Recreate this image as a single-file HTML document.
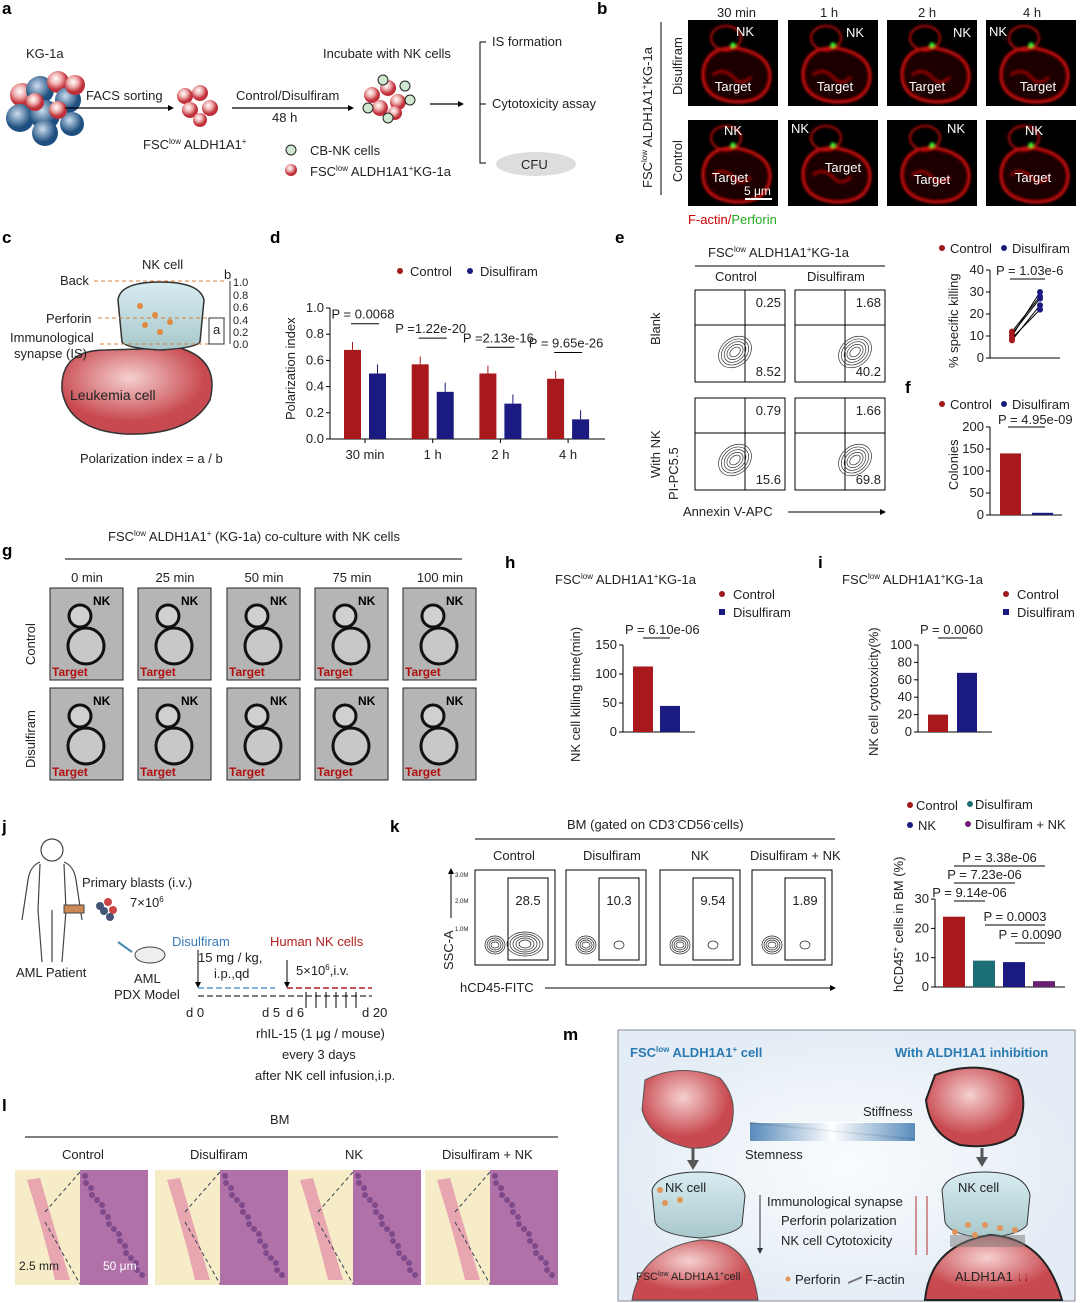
<!DOCTYPE html>
<html><head><meta charset="utf-8"><style>
html,body{margin:0;padding:0;background:#fff}
svg{display:block;font-family:"Liberation Sans",Arial,sans-serif}
text{fill:#222}
.pl{font-size:17px;font-weight:bold;fill:#000}
.t{font-size:13px}
.s{font-size:11px}
.xs{font-size:7px}
</style></head><body>
<svg id="fig" width="1080" height="1303" viewBox="0 0 1080 1303" xmlns="http://www.w3.org/2000/svg">
<defs>
<filter id="blur" x="-20%" y="-20%" width="140%" height="140%"><feGaussianBlur stdDeviation="1.2"/></filter>
<radialGradient id="cellR" cx="40%" cy="35%"><stop offset="0" stop-color="#fff"/><stop offset="0.5" stop-color="#f0b0b0"/><stop offset="1" stop-color="#c0303a"/></radialGradient>
<radialGradient id="cellB" cx="40%" cy="35%"><stop offset="0" stop-color="#cde"/><stop offset="1" stop-color="#1e4f80"/></radialGradient>
<radialGradient id="leuk" cx="45%" cy="35%"><stop offset="0" stop-color="#f6d0d0"/><stop offset="1" stop-color="#c84a50"/></radialGradient>
<linearGradient id="nkg" x1="0" y1="0" x2="0" y2="1"><stop offset="0" stop-color="#d8ecf0"/><stop offset="1" stop-color="#a8c8cc"/></linearGradient>
<linearGradient id="bluebar" x1="0" x2="1"><stop offset="0" stop-color="#3d78b0"/><stop offset="0.5" stop-color="#fff"/><stop offset="1" stop-color="#3d78b0"/></linearGradient>
<radialGradient id="mbg" cx="50%" cy="50%"><stop offset="0" stop-color="#fafcfe"/><stop offset="1" stop-color="#e4edf5"/></radialGradient>
</defs>

<!-- ===== Panel a ===== -->
<g>
<text class="pl" x="2" y="14">a</text>
<text class="t" x="26" y="58">KG-1a</text>
<g>
<circle cx="22" cy="95" r="12" fill="url(#cellR)"/><circle cx="40" cy="90" r="14" fill="url(#cellB)"/><circle cx="58" cy="82" r="11" fill="url(#cellR)"/><circle cx="20" cy="118" r="14" fill="url(#cellB)"/><circle cx="45" cy="115" r="15" fill="url(#cellB)"/><circle cx="68" cy="100" r="13" fill="url(#cellB)"/><circle cx="35" cy="102" r="9" fill="url(#cellR)"/><circle cx="75" cy="85" r="10" fill="url(#cellR)"/><circle cx="45" cy="133" r="13" fill="url(#cellB)"/><circle cx="72" cy="124" r="12" fill="url(#cellB)"/><circle cx="58" cy="110" r="9" fill="url(#cellR)"/>
</g>
<text class="t" x="86" y="100">FACS sorting</text>
<line x1="65" y1="108" x2="168" y2="108" stroke="#000" stroke-width="1.2"/><polygon points="168,105 174,108 168,111" fill="#000"/>
<g>
<circle cx="185" cy="96" r="8" fill="url(#cellR)"/><circle cx="200" cy="93" r="8" fill="url(#cellR)"/><circle cx="190" cy="110" r="8" fill="url(#cellR)"/><circle cx="210" cy="108" r="8" fill="url(#cellR)"/><circle cx="200" cy="120" r="7" fill="url(#cellR)"/>
</g>
<text class="t" x="143" y="149">FSC<tspan font-size="8" dy="-5">low</tspan><tspan dy="5"> ALDH1A1</tspan><tspan font-size="8" dy="-5">+</tspan></text>
<text class="t" x="236" y="100">Control/Disulfiram</text>
<text class="t" x="272" y="122">48 h</text>
<line x1="232" y1="108" x2="348" y2="108" stroke="#000" stroke-width="1.2"/><polygon points="348,105 354,108 348,111" fill="#000"/>
<text class="t" x="323" y="58">Incubate with NK cells</text>
<g>
<circle cx="372" cy="95" r="8" fill="url(#cellR)"/><circle cx="388" cy="88" r="8" fill="url(#cellR)"/><circle cx="398" cy="102" r="8" fill="url(#cellR)"/><circle cx="380" cy="108" r="8" fill="url(#cellR)"/><circle cx="395" cy="113" r="7" fill="url(#cellR)"/>
<circle cx="383" cy="80" r="5" fill="#cfe8cf" stroke="#222"/><circle cx="405" cy="86" r="5" fill="#cfe8cf" stroke="#222"/><circle cx="368" cy="108" r="5" fill="#cfe8cf" stroke="#222"/><circle cx="410" cy="100" r="5" fill="#cfe8cf" stroke="#222"/><circle cx="388" cy="118" r="5" fill="#cfe8cf" stroke="#222"/>
</g>
<line x1="430" y1="104" x2="458" y2="104" stroke="#000" stroke-width="1.2"/><polygon points="458,101 464,104 458,107" fill="#000"/>
<path d="M486 42 H480 V163 H486 M480 104 H486" stroke="#000" fill="none"/>
<text class="t" x="492" y="46">IS formation</text>
<text class="t" x="492" y="108">Cytotoxicity assay</text>
<ellipse cx="536" cy="164" rx="40" ry="12" fill="#ddd"/>
<text class="t" x="521" y="169">CFU</text>
<circle cx="291" cy="150" r="5" fill="#cfe8cf" stroke="#222"/><text class="t" x="310" y="155">CB-NK cells</text>
<circle cx="291" cy="170" r="6" fill="url(#cellR)"/><text class="t" x="310" y="176">FSC<tspan font-size="8" dy="-5">low</tspan><tspan dy="5"> ALDH1A1</tspan><tspan font-size="8" dy="-5">+</tspan><tspan dy="5">KG-1a</tspan></text>
</g>

<!-- ===== Panel b ===== -->
<g>
<text class="pl" x="597" y="14">b</text>
<text class="t" x="717" y="17">30 min</text><text class="t" x="820" y="17">1 h</text><text class="t" x="918" y="17">2 h</text><text class="t" x="1023" y="17">4 h</text>
<text class="t" transform="translate(652,188) rotate(-90)">FSC<tspan font-size="8" dy="-5">low</tspan><tspan dy="5"> ALDH1A1</tspan><tspan font-size="8" dy="-5">+</tspan><tspan dy="5">KG-1a</tspan></text>
<line x1="661" y1="22" x2="661" y2="195" stroke="#000"/>
<text class="t" transform="translate(682,95) rotate(-90)">Disulfiram</text>
<text class="t" transform="translate(682,182) rotate(-90)">Control</text>
<g id="micro"></g>
<text class="t" x="688" y="224" style="fill:#c00">F-actin/<tspan style="fill:#2a2">Perforin</tspan></text>
</g>

<!-- ===== Panel c ===== -->
<g>
<text class="pl" x="2" y="243">c</text>
<text class="t" x="142" y="269">NK cell</text>
<path d="M106 350 Q60 350 62 390 Q68 430 125 434 Q190 436 210 400 Q220 360 180 348 Z" fill="url(#leuk)" stroke="#333" stroke-width="1.5"/>
<path d="M122 342 L118 300 Q120 282 160 282 Q200 282 204 300 L200 342 Q196 348 160 350 Q126 348 122 342 Z" fill="url(#nkg)" stroke="#333" stroke-width="1.5"/>
<circle cx="140" cy="306" r="3" fill="#e08a40"/><circle cx="155" cy="315" r="3" fill="#e08a40"/><circle cx="145" cy="325" r="3" fill="#e08a40"/><circle cx="170" cy="322" r="3" fill="#e08a40"/><circle cx="160" cy="332" r="3" fill="#e08a40"/>
<text class="t" x="70" y="400" style="font-size:14px">Leukemia cell</text>
<text class="t" x="60" y="285">Back</text><text class="t" x="46" y="323">Perforin</text>
<text class="t" x="10" y="342">Immunological</text><text class="t" x="14" y="358">synapse (IS)</text>
<line x1="94" y1="281" x2="225" y2="281" stroke="#d08040" stroke-dasharray="4,3"/>
<line x1="98" y1="318" x2="225" y2="318" stroke="#d08040" stroke-dasharray="4,3"/>
<line x1="100" y1="344" x2="225" y2="344" stroke="#d08040" stroke-dasharray="4,3"/>
<rect x="209" y="318" width="15" height="26" fill="none" stroke="#333"/><text class="t" x="213" y="334">a</text>
<line x1="230" y1="281" x2="230" y2="344" stroke="#333"/>
<text class="t" x="224" y="279">b</text>
<g class="s"><text x="233" y="286">1.0</text><text x="233" y="299">0.8</text><text x="233" y="311">0.6</text><text x="233" y="324">0.4</text><text x="233" y="336">0.2</text><text x="233" y="348">0.0</text></g>
<text class="t" x="80" y="463">Polarization index  =  a / b</text>
</g>

<!-- ===== Panel d ===== -->
<g>
<text class="pl" x="270" y="243">d</text>
<circle cx="400" cy="271" r="3" fill="#a01818"/><text class="t" x="410" y="276">Control</text>
<circle cx="470" cy="271" r="3" fill="#1a1a80"/><text class="t" x="480" y="276">Disulfiram</text>
<text class="t" transform="translate(295,420) rotate(-90)">Polarization index</text>
<g id="chartD"></g>
</g>

<!-- ===== Panel e ===== -->
<g>
<text class="pl" x="615" y="243">e</text>
<text class="t" x="708" y="257">FSC<tspan font-size="8" dy="-5">low</tspan><tspan dy="5"> ALDH1A1</tspan><tspan font-size="8" dy="-5">+</tspan><tspan dy="5">KG-1a</tspan></text>
<line x1="695" y1="266" x2="885" y2="266" stroke="#000"/>
<text class="t" x="715" y="281">Control</text><text class="t" x="807" y="281">Disulfiram</text>
<text class="t" transform="translate(660,345) rotate(-90)">Blank</text>
<text class="t" transform="translate(660,478) rotate(-90)">With NK</text>
<text class="t" transform="translate(678,500) rotate(-90)">PI-PC5.5</text>
<text class="t" x="683" y="516">Annexin V-APC</text>
<line x1="788" y1="512" x2="880" y2="512" stroke="#000"/><polygon points="880,509 886,512 880,515"/>
<g id="flowE"></g>
<g id="chartE"></g>
<circle cx="942" cy="248" r="3" fill="#a01818"/><text class="t" x="950" y="253">Control</text>
<circle cx="1004" cy="248" r="3" fill="#1a1a80"/><text class="t" x="1012" y="253">Disulfiram</text>
<text class="t" transform="translate(958,368) rotate(-90)">% specific killing</text>
</g>

<!-- ===== Panel f ===== -->
<g>
<text class="pl" x="905" y="393">f</text>
<circle cx="942" cy="404" r="3" fill="#a01818"/><text class="t" x="950" y="409">Control</text>
<circle cx="1004" cy="404" r="3" fill="#1a1a80"/><text class="t" x="1012" y="409">Disulfiram</text>
<text class="t" transform="translate(958,490) rotate(-90)">Colonies</text>
<g id="chartF"></g>
</g>

<!-- ===== Panel g ===== -->
<g>
<text class="pl" x="2" y="556">g</text>
<text class="t" x="108" y="541">FSC<tspan font-size="8" dy="-5">low</tspan><tspan dy="5"> ALDH1A1</tspan><tspan font-size="8" dy="-5">+</tspan><tspan dy="5"> (KG-1a) co-culture with NK cells</tspan></text>
<line x1="65" y1="559" x2="462" y2="559" stroke="#000"/>
<text class="t" transform="translate(35,665) rotate(-90)">Control</text>
<text class="t" transform="translate(35,768) rotate(-90)">Disulfiram</text>
<g id="bright"></g>
</g>

<!-- ===== Panel h ===== -->
<g>
<text class="pl" x="505" y="568">h</text>
<text class="t" x="555" y="584">FSC<tspan font-size="8" dy="-5">low</tspan><tspan dy="5"> ALDH1A1</tspan><tspan font-size="8" dy="-5">+</tspan><tspan dy="5">KG-1a</tspan></text>
<circle cx="722" cy="594" r="3" fill="#a01818"/><text class="t" x="733" y="599">Control</text>
<rect x="719" y="609" width="6" height="6" fill="#1a1a80"/><text class="t" x="733" y="617">Disulfiram</text>
<text class="t" transform="translate(580,762) rotate(-90)">NK cell killing time(min)</text>
<g id="chartH"></g>
</g>

<!-- ===== Panel i ===== -->
<g>
<text class="pl" x="818" y="568">i</text>
<text class="t" x="842" y="584">FSC<tspan font-size="8" dy="-5">low</tspan><tspan dy="5"> ALDH1A1</tspan><tspan font-size="8" dy="-5">+</tspan><tspan dy="5">KG-1a</tspan></text>
<circle cx="1006" cy="594" r="3" fill="#a01818"/><text class="t" x="1017" y="599">Control</text>
<rect x="1003" y="609" width="6" height="6" fill="#1a1a80"/><text class="t" x="1017" y="617">Disulfiram</text>
<text class="t" transform="translate(878,756) rotate(-90)">NK cell cytotoxicity(%)</text>
<g id="chartI"></g>
</g>

<!-- ===== Panel j ===== -->
<g>
<text class="pl" x="2" y="832">j</text>
<g fill="none" stroke="#444" stroke-width="1.2">
<circle cx="52" cy="850" r="11"/>
<path d="M40 862 Q30 866 28 880 L22 920 M64 862 Q74 866 76 880 L82 920 M40 864 L38 910 L42 962 M64 864 L66 910 L62 962 M52 910 L52 962"/>
</g>
<rect x="64" y="905" width="20" height="8" fill="#c85" stroke="#444"/>
<g><circle cx="100" cy="906" r="4" fill="#457"/><circle cx="108" cy="902" r="4" fill="#c44"/><circle cx="104" cy="911" r="4" fill="#457"/><circle cx="113" cy="910" r="4" fill="#c44"/><circle cx="110" cy="917" r="4" fill="#457"/></g>
<text class="t" x="82" y="887">Primary blasts (i.v.)</text>
<text class="t" x="130" y="907">7×10<tspan font-size="8" dy="-5">6</tspan></text>
<text class="t" x="16" y="977">AML Patient</text>
<ellipse cx="150" cy="955" rx="15" ry="8" fill="#eee" stroke="#444"/><line x1="118" y1="942" x2="132" y2="952" stroke="#48a" stroke-width="2"/>
<text class="t" x="134" y="983">AML</text><text class="t" x="114" y="999">PDX Model</text>
<text class="t" x="172" y="946" style="fill:#3a7ab8">Disulfiram</text>
<text class="t" x="198" y="962">15 mg / kg,</text><text class="t" x="214" y="978">i.p.,qd</text>
<text class="t" x="270" y="946" style="fill:#b02020">Human NK cells</text>
<text class="t" x="296" y="975">5×10<tspan font-size="8" dy="-5">6</tspan><tspan dy="5">,i.v.</tspan></text>
<line x1="198" y1="950" x2="198" y2="985" stroke="#000"/><polygon points="195,982 198,988 201,982"/>
<line x1="287" y1="960" x2="287" y2="985" stroke="#000"/><polygon points="284,982 287,988 290,982"/>
<line x1="198" y1="988" x2="275" y2="988" stroke="#5a9ad0" stroke-width="1.5" stroke-dasharray="6,3"/>
<line x1="287" y1="988" x2="372" y2="988" stroke="#b02020" stroke-width="1.5" stroke-dasharray="6,3"/>
<line x1="198" y1="996" x2="372" y2="996" stroke="#555" stroke-width="1.5" stroke-dasharray="6,3"/>
<g stroke="#000"><line x1="306" y1="992" x2="306" y2="1008"/><line x1="316" y1="992" x2="316" y2="1008"/><line x1="326" y1="992" x2="326" y2="1008"/><line x1="336" y1="992" x2="336" y2="1008"/><line x1="346" y1="992" x2="346" y2="1008"/><line x1="356" y1="992" x2="356" y2="1008"/></g>
<text class="t" x="186" y="1017">d 0</text><text class="t" x="262" y="1017">d 5</text><text class="t" x="286" y="1017">d 6</text><text class="t" x="362" y="1017">d 20</text>
<text class="t" x="256" y="1038">rhIL-15 (1 μg / mouse)</text>
<text class="t" x="282" y="1059">every 3 days</text>
<text class="t" x="255" y="1080">after NK cell infusion,i.p.</text>
</g>

<!-- ===== Panel k ===== -->
<g>
<text class="pl" x="390" y="832">k</text>
<text class="t" x="567" y="829">BM (gated on CD3<tspan font-size="8" dy="-5">-</tspan><tspan dy="5">CD56</tspan><tspan font-size="8" dy="-5">-</tspan><tspan dy="5">cells)</tspan></text>
<line x1="475" y1="839" x2="835" y2="839" stroke="#000"/>
<text class="t" x="493" y="860">Control</text><text class="t" x="583" y="860">Disulfiram</text><text class="t" x="691" y="860">NK</text><text class="t" x="750" y="860">Disulfiram + NK</text>
<text class="t" transform="translate(453,970) rotate(-90)">SSC-A</text>
<line x1="451" y1="918" x2="451" y2="874" stroke="#000"/><polygon points="448,874 451,868 454,874"/>
<text class="t" x="460" y="992">hCD45-FITC</text>
<line x1="545" y1="988" x2="830" y2="988" stroke="#000"/><polygon points="830,985 836,988 830,991"/>
<g id="flowK"></g>
<circle cx="910" cy="805" r="3" fill="#a01818"/><text class="t" x="916" y="810">Control</text>
<circle cx="970" cy="804" r="3" fill="#1b6f74"/><text class="t" x="975" y="809">Disulfiram</text>
<circle cx="910" cy="825" r="3" fill="#1a1a80"/><text class="t" x="918" y="830">NK</text>
<circle cx="968" cy="824" r="3" fill="#6a2070"/><text class="t" x="975" y="829">Disulfiram + NK</text>
<text class="t" transform="translate(903,992) rotate(-90)">hCD45<tspan font-size="8" dy="-5">+</tspan><tspan dy="5"> cells in BM (%)</tspan></text>
<g id="chartK"></g>
</g>

<!-- ===== Panel l ===== -->
<g>
<text class="pl" x="2" y="1111">l</text>
<text class="t" x="270" y="1124">BM</text>
<line x1="25" y1="1137" x2="558" y2="1137" stroke="#000"/>
<text class="t" x="62" y="1159">Control</text><text class="t" x="190" y="1159">Disulfiram</text><text class="t" x="345" y="1159">NK</text><text class="t" x="442" y="1159">Disulfiram + NK</text>
<g id="histo"></g>
</g>

<!-- ===== Panel m ===== -->
<g>
<text class="pl" x="563" y="1040">m</text>
<rect x="618" y="1030" width="457" height="271" fill="url(#mbg)" stroke="#889"/>
<text x="630" y="1057" style="font-size:13px;font-weight:bold;fill:#2a7ab0">FSC<tspan font-size="8" dy="-5">low</tspan><tspan dy="5"> ALDH1A1</tspan><tspan font-size="8" dy="-5">+</tspan><tspan dy="5"> cell</tspan></text>
<text x="895" y="1057" style="font-size:13px;font-weight:bold;fill:#2a7ab0">With ALDH1A1 inhibition</text>
<path d="M645 1080 Q680 1062 720 1078 Q740 1100 730 1130 Q720 1150 690 1148 Q650 1140 642 1110 Z" fill="url(#leuk)" stroke="#555"/>
<path d="M935 1075 Q980 1058 1018 1080 Q1030 1105 1015 1135 Q995 1150 960 1145 Q930 1135 926 1100 Z" fill="url(#leuk)" stroke="#222" stroke-width="2"/>
<polygon points="750,1122 915,1122 915,1140" fill="#fff"/>
<path d="M750 1124 L915 1140 L915 1138 L750 1122" fill="#999"/>
<rect x="750" y="1123" width="165" height="18" fill="url(#bluebar)" opacity="0.85"/>
<text class="t" x="863" y="1116">Stiffness</text><text class="t" x="745" y="1159">Stemness</text>
<path d="M693 1148 V1163" stroke="#555" stroke-width="3"/><polygon points="687,1160 693,1170 699,1160" fill="#555"/>
<path d="M982 1148 V1160" stroke="#555" stroke-width="3"/><polygon points="976,1157 982,1167 988,1157" fill="#555"/>
<path d="M655 1222 L652 1190 Q658 1172 700 1172 Q740 1172 745 1195 L742 1225 Q735 1235 700 1238 Q660 1235 655 1222 Z" fill="url(#nkg)" stroke="#333"/>
<path d="M632 1300 Q640 1250 700 1240 Q750 1238 758 1300 Z" fill="url(#leuk)" stroke="#555"/>
<text class="t" x="665" y="1192">NK cell</text>
<circle cx="660" cy="1190" r="3" fill="#e0955a"/><circle cx="665" cy="1203" r="3" fill="#e0955a"/><circle cx="680" cy="1200" r="3" fill="#e0955a"/>
<text class="s" x="636" y="1280">FSC<tspan font-size="7" dy="-4">low</tspan><tspan dy="4"> ALDH1A1</tspan><tspan font-size="7" dy="-4">+</tspan><tspan dy="4">cell</tspan></text>
<path d="M945 1222 L942 1190 Q948 1172 985 1172 Q1025 1172 1030 1195 L1027 1225 Q1020 1235 985 1238 Q950 1235 945 1222 Z" fill="url(#nkg)" stroke="#333"/>
<path d="M925 1300 Q930 1245 990 1235 Q1045 1238 1062 1300 Z" fill="url(#leuk)" stroke="#222" stroke-width="2"/>
<rect x="950" y="1235" width="75" height="12" fill="#777" opacity="0.5"/>
<text class="t" x="958" y="1192">NK cell</text>
<circle cx="955" cy="1232" r="3" fill="#e0955a"/><circle cx="968" cy="1225" r="3" fill="#e0955a"/><circle cx="985" cy="1225" r="3" fill="#e0955a"/><circle cx="1000" cy="1228" r="3" fill="#e0955a"/><circle cx="1015" cy="1230" r="3" fill="#e0955a"/><circle cx="975" cy="1235" r="3" fill="#e0955a"/>
<text class="t" x="955" y="1281">ALDH1A1 <tspan style="fill:#a02020">↓↓</tspan></text>
<line x1="760" y1="1195" x2="760" y2="1250" stroke="#333"/><polygon points="757,1248 760,1254 763,1248" fill="#333"/>
<text class="t" x="767" y="1206">Immunological synapse</text><text class="t" x="781" y="1225">Perforin polarization</text><text class="t" x="781" y="1245">NK cell Cytotoxicity</text>
<g stroke="#b03030"><line x1="916" y1="1255" x2="916" y2="1196"/><line x1="927" y1="1255" x2="927" y2="1196"/></g>
<circle cx="788" cy="1279" r="2.5" fill="#e0955a"/><text class="t" x="795" y="1284">Perforin</text>
<line x1="848" y1="1283" x2="862" y2="1277" stroke="#777" stroke-width="2"/><text class="t" x="865" y="1284">F-actin</text>
</g>
</svg>

<script>
// ---------- data ----------
const dCategories = ['30 min','1 h','2 h','4 h'];
const dControl = [0.68, 0.57, 0.50, 0.46];
const dDisulfiram = [0.50, 0.36, 0.27, 0.15];
const dTicks = [0, 0.2, 0.4, 0.6, 0.8, 1.0];
const dPvalues = ['P = 0.0068','P =1.22e-20','P =2.13e-16','P = 9.65e-26'];

const eControl = [8, 10, 12, 11, 9];
const eDisulfiram = [24, 30, 28, 27, 22];
const eTicks = [0, 10, 20, 30, 40];
const eFlowQuadrants = [['0.25','8.52'],['1.68','40.2'],['0.79','15.6'],['1.66','69.8']];

const fValues = [140, 5];
const fTicks = [0, 50, 100, 150, 200];

const hValues = [113, 45];
const hTicks = [0, 50, 100, 150];
const iValues = [20, 68];
const iTicks = [0, 20, 40, 60, 80, 100];

const kValues = [24, 9, 8.5, 2];
const kTicks = [0, 10, 20, 30];
const kFlowValues = ['28.5','10.3','9.54','1.89'];

const gTimes = ['0 min','25 min','50 min','75 min','100 min'];

const NS = 'http://www.w3.org/2000/svg';
function mk(tag, attrs, parent, txt){
  const e = document.createElementNS(NS, tag);
  for (const k in attrs) e.setAttribute(k, attrs[k]);
  if (txt !== undefined) e.textContent = txt;
  parent.appendChild(e);
  return e;
}
const RED = '#a8191c', NAVY = '#1a1a80';

function yAxis(g, x, yFn, ticks, y0, y1, fmt){
  let el = mk('line', {x1:x, y1:y0, x2:x, y2:y1, stroke:'#000'}, g);
  
  
  ticks.forEach(t => {
    mk('line', {x1:x-4, y1:yFn(t), x2:x, y2:yFn(t), stroke:'#000'}, g);
    const lb = mk('text', {x:x-6, y:yFn(t)+4, 'text-anchor':'end', 'font-size':13}, g, fmt ? fmt(t) : t);
    
    
  });
}

// ---------- chart d ----------
(function(){
  const g = document.getElementById('chartD');
  const yD = v => 439 - v * 131;
  const xD = i => 365 + i * 67.7;
  yAxis(g, 330, yD, dTicks, 308, 439, t => t.toFixed(1));
  mk('line', {x1:330, y1:439, x2:605, y2:439, stroke:'#000'}, g);
  dCategories.forEach((c, i) => {
    const cx = xD(i);
    mk('line', {x1:cx, y1:439, x2:cx, y2:443, stroke:'#000'}, g);
    const lb = mk('text', {x:cx, y:459, 'text-anchor':'middle', 'font-size':13}, g, c);
    
    
    const b1 = mk('rect', {x:cx-21, y:yD(dControl[i]), width:17, height:439-yD(dControl[i]), fill:RED}, g);
    
    
    const b2 = mk('rect', {x:cx+4, y:yD(dDisulfiram[i]), width:17, height:439-yD(dDisulfiram[i]), fill:NAVY}, g);
    
    
    mk('line', {x1:cx-12.5, y1:yD(dControl[i]+0.06), x2:cx-12.5, y2:yD(dControl[i]), stroke:RED}, g);
    mk('line', {x1:cx+12.5, y1:yD(dDisulfiram[i]+0.07), x2:cx+12.5, y2:yD(dDisulfiram[i]), stroke:NAVY}, g);
    const top = Math.max(dControl[i], dDisulfiram[i]) + 0.2;
    mk('line', {x1:cx-14, y1:yD(top), x2:cx+14, y2:yD(top), stroke:'#000'}, g);
    const pt = mk('text', {x:cx-2, y:yD(top)-5, 'text-anchor':'middle', 'font-size':13}, g, dPvalues[i]);
    
    
  });
})();

// ---------- flow e ----------
(function(){
  const g = document.getElementById('flowE');
  const boxes = [[695,290],[795,290],[695,398],[795,398]];
  boxes.forEach((b, i) => {
    const [x, y] = b;
    const r = mk('rect', {x:x, y:y, width:90, height:92, fill:'#fff', stroke:'#000'}, g);
    
    
    mk('line', {x1:x+50, y1:y, x2:x+50, y2:y+92, stroke:'#000'}, g);
    mk('line', {x1:x, y1:y+35, x2:x+90, y2:y+35, stroke:'#000'}, g);
    const cx = i % 2 ? x + 60 : x + 40, cy = y + 62;
    for (let k = 0; k < 5; k++) mk('ellipse', {cx:cx, cy:cy, rx:6+k*3, ry:4+k*2.5, fill:'none', stroke:'#333', 'stroke-width':0.7, transform:'rotate(-40 '+cx+' '+cy+')'}, g);
    mk('text', {x:x+86, y:y+17, 'text-anchor':'end', 'font-size':13}, g, eFlowQuadrants[i][0]);
    mk('text', {x:x+86, y:y+86, 'text-anchor':'end', 'font-size':13}, g, eFlowQuadrants[i][1]);
  });
})();

// ---------- chart e ----------
(function(){
  const g = document.getElementById('chartE');
  const yE = v => 358 - v * 2.2;
  yAxis(g, 990, yE, eTicks, 270, 358);
  mk('line', {x1:990, y1:358, x2:1060, y2:358, stroke:'#000'}, g);
  eControl.forEach((v, i) => {
    const ln = mk('line', {x1:1012, y1:yE(v), x2:1040, y2:yE(eDisulfiram[i]), stroke:'#000'}, g);
    
    
    const p1 = mk('circle', {cx:1012, cy:yE(v), r:3, fill:RED}, g);
    
    
    const p2 = mk('circle', {cx:1040, cy:yE(eDisulfiram[i]), r:3, fill:NAVY}, g);
    
    
  });
  mk('line', {x1:1010, y1:279, x2:1045, y2:279, stroke:'#000'}, g);
  mk('text', {x:996, y:275, 'font-size':13}, g, 'P = 1.03e-6');
})();

// ---------- chart f ----------
(function(){
  const g = document.getElementById('chartF');
  const yF = v => 515 - v * 0.44;
  yAxis(g, 990, yF, fTicks, 427, 515);
  mk('line', {x1:990, y1:515, x2:1062, y2:515, stroke:'#000'}, g);
  const xs = [1000, 1032], cols = [RED, NAVY];
  fValues.forEach((v, i) => {
    const b = mk('rect', {x:xs[i], y:yF(v), width:21, height:515-yF(v), fill:cols[i]}, g);
    
    
  });
  mk('line', {x1:1008, y1:427, x2:1045, y2:427, stroke:'#000'}, g);
  mk('text', {x:998, y:424, 'font-size':13}, g, 'P = 4.95e-09');
})();

// ---------- small two-bar charts h, i ----------
function twoBar(id, vals, ticks, scale, xs, pText, name){
  const g = document.getElementById(id);
  const y = v => 732 - v * scale;
  yAxis(g, xs[0]-10, y, ticks, 645, 732);
  mk('line', {x1:xs[0]-10, y1:732, x2:xs[1]+35, y2:732, stroke:'#000'}, g);
  const cols = [RED, NAVY];
  vals.forEach((v, i) => {
    const b = mk('rect', {x:xs[i], y:y(v), width:20, height:732-y(v), fill:cols[i]}, g);
    
    
  });
  mk('line', {x1:xs[0]+10, y1:y(ticks[ticks.length-1])-7, x2:xs[1]+10, y2:y(ticks[ticks.length-1])-7, stroke:'#000'}, g);
  mk('text', {x:xs[0]-8, y:y(ticks[ticks.length-1])-11, 'font-size':13}, g, pText);
}
twoBar('chartH', hValues, hTicks, 0.58, [633, 660], 'P = 6.10e-06', 'killing-time');
twoBar('chartI', iValues, iTicks, 0.87, [928, 957], 'P = 0.0060', 'cytotoxicity');

// ---------- chart k ----------
(function(){
  const g = document.getElementById('chartK');
  const yK = v => 987 - v * 2.93;
  yAxis(g, 935, yK, kTicks, 899, 987);
  mk('line', {x1:935, y1:987, x2:1065, y2:987, stroke:'#000'}, g);
  const cols = [RED, '#1b6f74', NAVY, '#6a2070'];
  kValues.forEach((v, i) => {
    const b = mk('rect', {x:943 + i*30, y:yK(v), width:22, height:987-yK(v), fill:cols[i]}, g);
    
    
  });
  [['P = 3.38e-06',862,954,1045],['P = 7.23e-06',879,954,1015],['P = 9.14e-06',897,954,985],['P = 0.0003',921,985,1045],['P = 0.0090',939,1015,1045]].forEach(p => {
    mk('line', {x1:p[2], y1:p[1]+4, x2:p[3], y2:p[1]+4, stroke:'#000'}, g);
    mk('text', {x:(p[2]+p[3])/2, y:p[1], 'text-anchor':'middle', 'font-size':13}, g, p[0]);
  });
})();

// ---------- flow k ----------
(function(){
  const g = document.getElementById('flowK');
  const xs = [475, 566, 660, 752];
  mk('text', {x:455, y:877, 'font-size':6}, g, '3.0M');
  mk('text', {x:455, y:903, 'font-size':6}, g, '2.0M');
  mk('text', {x:455, y:931, 'font-size':6}, g, '1.0M');
  xs.forEach((x, i) => {
    const r = mk('rect', {x:x, y:870, width:80, height:95, fill:'#fff', stroke:'#000'}, g);
    
    
    mk('rect', {x:x+33, y:878, width:40, height:82, fill:'none', stroke:'#000'}, g);
    mk('text', {x:x+53, y:905, 'text-anchor':'middle', 'font-size':13}, g, kFlowValues[i]);
    for (let k = 0; k < 4; k++) mk('ellipse', {cx:x+20, cy:945, rx:4+k*2, ry:3+k*2, fill:'none', stroke:'#222', 'stroke-width':0.7}, g);
    if (i === 0) for (let k = 0; k < 5; k++) mk('ellipse', {cx:x+50, cy:944, rx:6+k*3, ry:4+k*2, fill:'none', stroke:'#222', 'stroke-width':0.7}, g);
    else mk('ellipse', {cx:x+53, cy:945, rx:5, ry:4, fill:'none', stroke:'#222', 'stroke-width':0.7}, g);
  });
})();

// ---------- microscopy b ----------
(function(){
  const g = document.getElementById('micro');
  const xs = [688, 788, 887, 986], ys = [20, 120];
  const nkPos = [[[745,32],[855,33],[962,33],[998,32]],[[733,131],[800,129],[956,129],[1034,131]]];
  const tPos = [[[733,87],[835,87],[927,87],[1038,87]],[[730,178],[843,168],[932,180],[1033,178]]];
  ys.forEach((y, r) => xs.forEach((x, c) => {
    const bg = mk('rect', {x:x, y:y, width:90, height:86, fill:'#000'}, g);
    
    
    const sg = mk('g', {filter:'url(#blur)'}, g);
    mk('path', {d:'M'+(x+15)+' '+(y+50)+' Q'+(x+20)+' '+(y+25)+' '+(x+50)+' '+(y+28)+' Q'+(x+85)+' '+(y+35)+' '+(x+82)+' '+(y+60)+' Q'+(x+78)+' '+(y+84)+' '+(x+45)+' '+(y+82)+' Q'+(x+12)+' '+(y+78)+' '+(x+15)+' '+(y+50)+' Z', fill:'#1a0000', stroke:'#d01010', 'stroke-width':2.5}, sg);
    mk('ellipse', {cx:x+38, cy:y+18, rx:15, ry:12, fill:'none', stroke:'#c01010', 'stroke-width':2}, sg);
    mk('path', {d:'M'+(x+25)+' '+(y+55)+' q10 -8 20 2 q8 10 18 0', fill:'none', stroke:'#a00', 'stroke-width':1.5}, sg);
    mk('circle', {cx:x+45, cy:y+25, r:2.5, fill:'#3f3'}, sg);
    mk('text', {x:nkPos[r][c][0], y:nkPos[r][c][1]+4, 'text-anchor':'middle', 'font-size':13, style:'fill:#fff'}, g, 'NK');
    mk('text', {x:tPos[r][c][0], y:tPos[r][c][1]+4, 'text-anchor':'middle', 'font-size':13, style:'fill:#fff'}, g, 'Target');
  }));
  mk('line', {x1:745, y1:199, x2:772, y2:199, stroke:'#fff', 'stroke-width':2}, g);
  mk('text', {x:744, y:195, 'font-size':12, style:'fill:#fff'}, g, '5 μm');
})();

// ---------- brightfield g ----------
(function(){
  const g = document.getElementById('bright');
  const xs = [50, 138, 227, 315, 403], ys = [588, 688];
  gTimes.forEach((t, i) => mk('text', {x:xs[i]+37, y:582, 'text-anchor':'middle', 'font-size':13}, g, t));
  ys.forEach(y => xs.forEach(x => {
    const r = mk('rect', {x:x, y:y, width:73, height:92, fill:'#b5b5b5', stroke:'#222'}, g);
    
    
    mk('circle', {cx:x+30, cy:y+28, r:11, fill:'#d0d0d0', stroke:'#111', 'stroke-width':3}, g);
    mk('circle', {cx:x+36, cy:y+58, r:18, fill:'#c8c8c8', stroke:'#111', 'stroke-width':3}, g);
    mk('text', {x:x+43, y:y+17, 'font-size':12, 'font-weight':'bold', style:'fill:#000'}, g, 'NK');
    mk('text', {x:x+2, y:y+88, 'font-size':12, 'font-weight':'bold', style:'fill:#b01010'}, g, 'Target');
  }));
})();

// ---------- histology l ----------
(function(){
  const g = document.getElementById('histo');
  const xs = [15, 155, 288, 425];
  xs.forEach(x => {
    const a = mk('rect', {x:x, y:1170, width:65, height:115, fill:'#f6ecc8'}, g);
    
    
    mk('path', {d:'M'+(x+12)+' 1180 Q'+(x+28)+' 1230 '+(x+40)+' 1280 L'+(x+55)+' 1280 Q'+(x+40)+' 1230 '+(x+25)+' 1178 Z', fill:'#e8a6b0'}, g);
    const b = mk('rect', {x:x+65, y:1170, width:68, height:115, fill:'#b070a8'}, g);
    
    
    for (let k = 0; k < 18; k++) mk('circle', {cx:x+70+(k*17)%62, cy:1176+(k*29)%104, r:3, fill:'#6a3a80', opacity:0.7}, g);
    mk('line', {x1:x+30, y1:1212, x2:x+65, y2:1172, stroke:'#345', 'stroke-dasharray':'4,3'}, g);
    mk('line', {x1:x+30, y1:1222, x2:x+65, y2:1284, stroke:'#345', 'stroke-dasharray':'4,3'}, g);
  });
  mk('text', {x:19, y:1270, 'font-size':12}, g, '2.5 mm');
  mk('text', {x:103, y:1270, 'font-size':12, style:'fill:#fff'}, g, '50 μm');
})();
</script>
</body></html>
